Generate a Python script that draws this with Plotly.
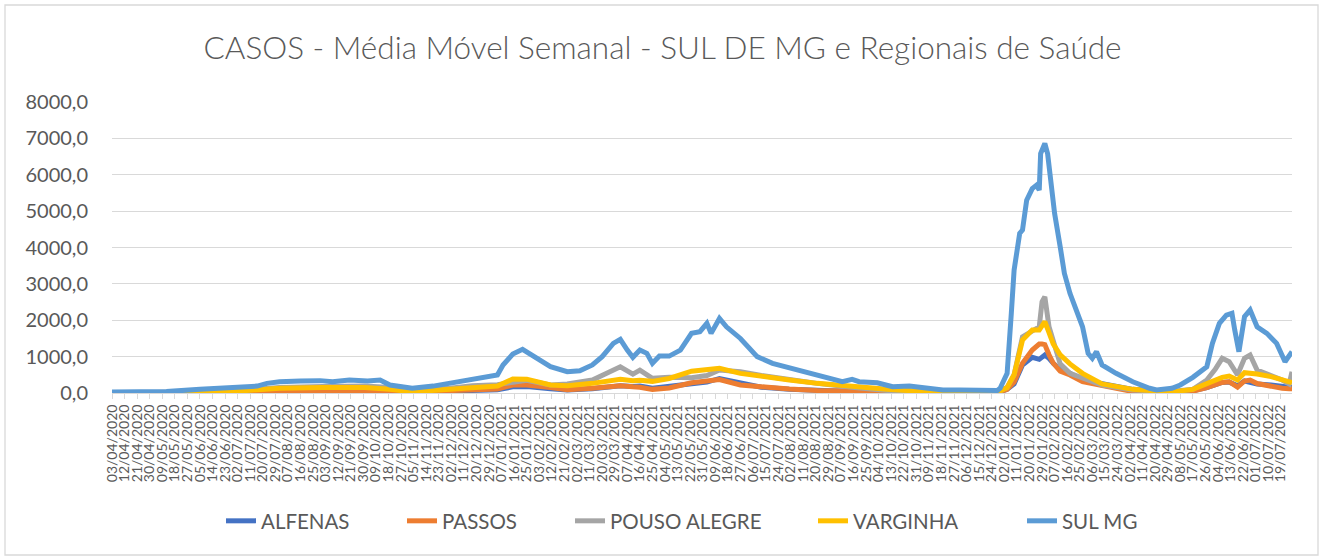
import pandas as pd
import plotly.graph_objects as go

# ---- data ----
reg_dates = [
    "2020-04-03", "2020-05-01", "2020-06-01", "2020-07-01", "2020-08-01", "2020-09-01", "2020-10-01",
    "2020-10-19", "2020-11-04", "2020-12-01", "2020-12-17", "2021-01-04", "2021-01-15", "2021-01-25",
    "2021-02-11", "2021-02-23", "2021-03-13", "2021-03-28", "2021-04-02", "2021-04-11", "2021-04-16",
    "2021-04-25", "2021-05-07", "2021-05-23", "2021-06-03", "2021-06-12", "2021-06-27", "2021-07-12",
    "2021-08-01", "2021-08-21", "2021-09-15", "2021-10-10", "2021-11-07", "2021-12-01", "2021-12-28",
    "2022-01-04", "2022-01-09", "2022-01-15", "2022-01-22", "2022-01-27", "2022-01-29", "2022-01-31",
    "2022-02-03", "2022-02-06", "2022-02-11", "2022-02-18", "2022-02-27", "2022-03-13", "2022-04-04",
    "2022-05-02", "2022-05-17", "2022-05-27", "2022-06-02", "2022-06-07", "2022-06-12", "2022-06-18",
    "2022-06-23", "2022-06-27", "2022-07-02", "2022-07-12", "2022-07-20", "2022-07-25", "2022-07-27",
]

alfenas = [5, 5, 10, 20, 40, 50, 50, 40, 20, 40,
           70, 90, 170, 180, 120, 80, 120, 180, 200, 180,
           190, 130, 180, 250, 300, 400, 280, 160, 100, 60,
           40, 25, 10, 10, 10, 100, 250, 770, 980, 925,
           1000, 1045, 950, 815, 650, 540, 357, 265, 100, 20,
           60, 150, 230, 290, 300, 200, 330, 300, 250, 220,
           170, 160, 150]

passos = [5, 5, 10, 30, 50, 60, 60, 50, 30, 60,
          90, 110, 220, 220, 150, 90, 130, 190, 200, 170,
          160, 100, 140, 280, 320, 370, 220, 160, 110, 70,
          50, 30, 15, 10, 10, 100, 300, 815, 1180, 1345,
          1345, 1330, 1050, 820, 600, 495, 310, 200, 40, 15,
          50, 150, 220, 290, 310, 160, 330, 357, 260, 180,
          130, 120, 120]

pouso_alegre = [10, 10, 20, 60, 150, 180, 190, 150, 80, 130,
                200, 230, 310, 350, 220, 250, 357, 630, 720, 520,
                630, 403, 430, 420, 480, 630, 585, 480, 357, 265,
                155, 70, 40, 25, 20, 150, 500, 1545, 1685, 1820,
                2510, 2645, 1820, 1400, 800, 540, 403, 220, 82, 40,
                100, 357, 650, 953, 860, 500, 953, 1045, 630, 495,
                357, 250, 585]

varginha = [5, 5, 10, 50, 130, 150, 150, 100, 35, 100,
            150, 190, 385, 380, 220, 200, 265, 360, 375, 340,
            350, 320, 400, 600, 630, 677, 540, 450, 357, 265,
            173, 100, 40, 20, 20, 150, 500, 1455, 1730, 1730,
            1850, 1960, 1660, 1350, 1050, 800, 540, 250, 100, 30,
            100, 265, 380, 430, 467, 357, 558, 550, 522, 450,
            357, 290, 283]

sul_dates = [
    "2020-04-03", "2020-05-12", "2020-06-05", "2020-06-29", "2020-07-16", "2020-07-23", "2020-08-01",
    "2020-08-16", "2020-08-30", "2020-09-08", "2020-09-20", "2020-10-03", "2020-10-12", "2020-10-19",
    "2020-11-04", "2020-11-19", "2020-12-03", "2020-12-17", "2020-12-27", "2021-01-04", "2021-01-08",
    "2021-01-15", "2021-01-22", "2021-02-01", "2021-02-11", "2021-02-23", "2021-03-04", "2021-03-13",
    "2021-03-20", "2021-03-28", "2021-04-02", "2021-04-07", "2021-04-11", "2021-04-16", "2021-04-21",
    "2021-04-25", "2021-04-30", "2021-05-07", "2021-05-15", "2021-05-23", "2021-05-29", "2021-06-03",
    "2021-06-06", "2021-06-12", "2021-06-17", "2021-06-27", "2021-07-09", "2021-07-20", "2021-08-03",
    "2021-08-16", "2021-08-28", "2021-09-08", "2021-09-15", "2021-09-20", "2021-10-03", "2021-10-14",
    "2021-10-26", "2021-11-07", "2021-11-19", "2021-12-01", "2021-12-15", "2021-12-28", "2021-12-30",
    "2022-01-04", "2022-01-07", "2022-01-09", "2022-01-13", "2022-01-15", "2022-01-18", "2022-01-22",
    "2022-01-25", "2022-01-27", "2022-01-28", "2022-01-31", "2022-02-02", "2022-02-05", "2022-02-07",
    "2022-02-11", "2022-02-14", "2022-02-18", "2022-02-23", "2022-02-27", "2022-03-03", "2022-03-06",
    "2022-03-09", "2022-03-13", "2022-03-23", "2022-04-04", "2022-04-16", "2022-04-21", "2022-05-02",
    "2022-05-08", "2022-05-17", "2022-05-27", "2022-05-31", "2022-06-05", "2022-06-10", "2022-06-14",
    "2022-06-16", "2022-06-19", "2022-06-23", "2022-06-27", "2022-07-02", "2022-07-09", "2022-07-16",
    "2022-07-22", "2022-07-27",
]

sul_mg = [30, 40, 100, 155, 190, 265, 310,
          330, 340, 310, 357, 330, 357, 220,
          130, 190, 283, 403, 467, 495, 770,
          1070, 1200, 953, 723, 585, 613, 770,
          1000, 1365, 1475, 1180, 980, 1180, 1090,
          815, 1015, 1015, 1180, 1640, 1685, 1915,
          1640, 2050, 1820, 1500, 1000, 815, 677,
          540, 403, 310, 375, 310, 283, 173,
          190, 130, 82, 82, 70, 70, 130,
          540, 2190, 3380, 4390, 4480, 5300, 5620,
          5710, 5580, 6580, 6860, 6580, 5670, 4935,
          4020, 3290, 2740, 2190, 1820, 1090, 953,
          1135, 770, 540, 310, 130, 82, 130,
          220, 430, 723, 1365, 1915, 2140, 2190,
          1730, 1135, 2100, 2280, 1820, 1640, 1365,
          860, 1135]

series_names = ["ALFENAS", "PASSOS", "POUSO ALEGRE", "VARGINHA", "SUL MG"]
series_colors = ["#4472C4", "#ED7D31", "#A5A5A5", "#FFC000", "#5B9BD5"]

y_ticks = [0, 1000, 2000, 3000, 4000, 5000, 6000, 7000, 8000]
y_ticktext = ["0,0", "1000,0", "2000,0", "3000,0", "4000,0", "5000,0", "6000,0", "7000,0", "8000,0"]

x_start = "2020-04-03"
x_last_label = "2022-07-19"
x_end = "2022-07-27"

# ---- layout constants (pixels) ----
W, H = 1325, 559
PL, PR, PT, PB = 112, 1292, 102, 393
pw, ph = PR - PL, PB - PT
legend_text_px = [263, 444, 612, 855, 1064]
legend_y_px = 521

# ---- figure ----
fig = go.Figure()
series_x = [reg_dates, reg_dates, reg_dates, reg_dates, sul_dates]
series_y = [alfenas, passos, pouso_alegre, varginha, sul_mg]
legend_ids = ["legend", "legend2", "legend3", "legend4", "legend5"]
for name, col, xs, ys, lid in zip(series_names, series_colors, series_x, series_y, legend_ids):
    fig.add_trace(go.Scatter(
        x=pd.to_datetime(xs), y=ys, mode="lines", name=name,
        line=dict(color=col, width=5), legend=lid,
    ))

tick_dates = pd.date_range(x_start, x_last_label, freq="9D")
tick_text = [d.strftime("%d/%m/%Y") for d in tick_dates]

legends = {}
for lid, tx in zip(legend_ids, legend_text_px):
    legends[lid] = dict(
        orientation="h", x=(tx - 42 - PL) / pw, xanchor="left",
        y=(PB - legend_y_px) / ph, yanchor="middle",
        font=dict(family="Lato", size=20.5, color="#595959"),
        bgcolor="rgba(0,0,0,0)", borderwidth=0,
    )

fig.update_layout(
    width=W, height=H,
    paper_bgcolor="white", plot_bgcolor="white",
    margin=dict(l=PL, r=W - PR, t=PT, b=H - PB, autoexpand=False),
    title=dict(
        text="CASOS - Média Móvel Semanal - SUL DE MG e Regionais de Saúde",
        x=0.5, xanchor="center", y=1 - 48 / H, yanchor="middle",
        font=dict(family="Lato", size=31.5, color="#595959", weight=300),
    ),
    font=dict(family="Lato", color="#595959"),
    showlegend=True,
    xaxis=dict(
        type="date",
        range=[pd.Timestamp(x_start), pd.Timestamp(x_end)],
        tickmode="array", tickvals=tick_dates, ticktext=tick_text,
        tickangle=-90, tickfont=dict(family="Lato", size=14, color="#595959"),
        showgrid=False, showline=True, linecolor="#D9D9D9", linewidth=1,
        ticks="outside", ticklen=5, tickcolor="#D9D9D9",
        zeroline=False,
    ),
    yaxis=dict(
        range=[0, 8000],
        tickmode="array", tickvals=y_ticks, ticktext=y_ticktext,
        tickfont=dict(family="Lato", size=20, color="#595959"),
        showgrid=True, gridcolor="#D9D9D9", gridwidth=1.3,
        zeroline=False, showline=False, ticks="", ticklabelstandoff=23,
    ),
    shapes=[dict(
        type="rect", xref="paper", yref="paper",
        x0=(5 - PL) / pw, x1=(1318 - PL) / pw,
        y0=(PB - 555) / ph, y1=(PB - 5) / ph,
        line=dict(color="#D9D9D9", width=1.3), fillcolor="rgba(0,0,0,0)", layer="below",
    )],
    **legends,
)

fig.write_html(
    "out.html",
    config={"displayModeBar": False},
    post_script="document.body.style.margin='0';",
)
